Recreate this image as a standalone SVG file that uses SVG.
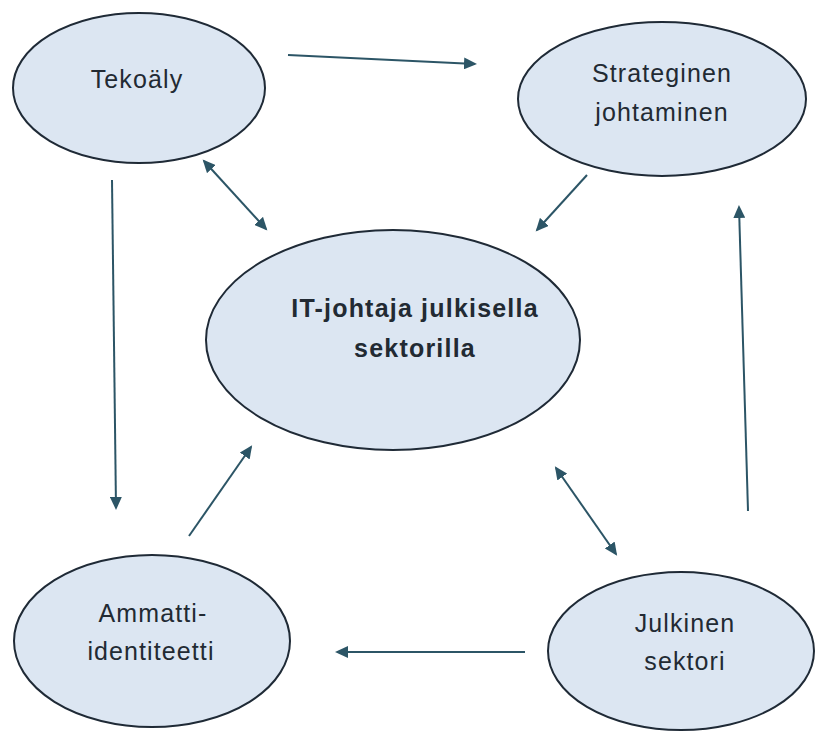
<svg xmlns="http://www.w3.org/2000/svg" width="815" height="731" viewBox="0 0 815 731">
<style>
.node ellipse{fill:#dce6f2;stroke:#1f2a36;stroke-width:2}
.node text{font-family:"Liberation Sans",Arial,sans-serif;font-size:25px;fill:#222a33;text-anchor:middle;letter-spacing:1.1px}
.node text.b{font-weight:bold;letter-spacing:1.2px}
.conn line{stroke:#2c5566;stroke-width:2;fill:none}
</style>
<defs>
<marker id="ah" markerUnits="userSpaceOnUse" markerWidth="14" markerHeight="12" viewBox="0 0 14 12" refX="11" refY="6" orient="auto-start-reverse">
<path d="M0,0 L13,6 L0,12 Z" fill="#2c5566"/>
</marker>
</defs>
<rect width="815" height="731" fill="#ffffff"/>
<g class="conn">
<line x1="288" y1="55" x2="475" y2="64" marker-end="url(#ah)"/>
<line x1="587" y1="175" x2="537" y2="230" marker-end="url(#ah)"/>
<line x1="204" y1="161" x2="266" y2="229" marker-start="url(#ah)" marker-end="url(#ah)"/>
<line x1="112" y1="180" x2="116" y2="508" marker-end="url(#ah)"/>
<line x1="189" y1="536" x2="251" y2="447" marker-end="url(#ah)"/>
<line x1="556" y1="468" x2="616" y2="554" marker-start="url(#ah)" marker-end="url(#ah)"/>
<line x1="748" y1="511" x2="739" y2="207" marker-end="url(#ah)"/>
<line x1="525" y1="652" x2="337" y2="652" marker-end="url(#ah)"/>
</g>
<g id="tekoaly" class="node">
<ellipse cx="139" cy="88" rx="126" ry="75"/>
<text x="137" y="88">Tekoäly</text>
</g>
<g id="strateginen" class="node">
<ellipse cx="662" cy="99" rx="144" ry="77"/>
<text x="662" y="82">Strateginen</text>
<text x="662" y="121">johtaminen</text>
</g>
<g id="itjohtaja" class="node">
<ellipse cx="393" cy="340" rx="187" ry="110"/>
<text class="b" x="415" y="317">IT-johtaja julkisella</text>
<text class="b" x="415" y="357">sektorilla</text>
</g>
<g id="ammatti" class="node">
<ellipse cx="152" cy="641" rx="138" ry="86"/>
<text x="153" y="622">Ammatti-</text>
<text x="151" y="660">identiteetti</text>
</g>
<g id="julkinen" class="node">
<ellipse cx="681" cy="651" rx="133" ry="79"/>
<text x="685" y="632">Julkinen</text>
<text x="685" y="670">sektori</text>
</g>
</svg>
